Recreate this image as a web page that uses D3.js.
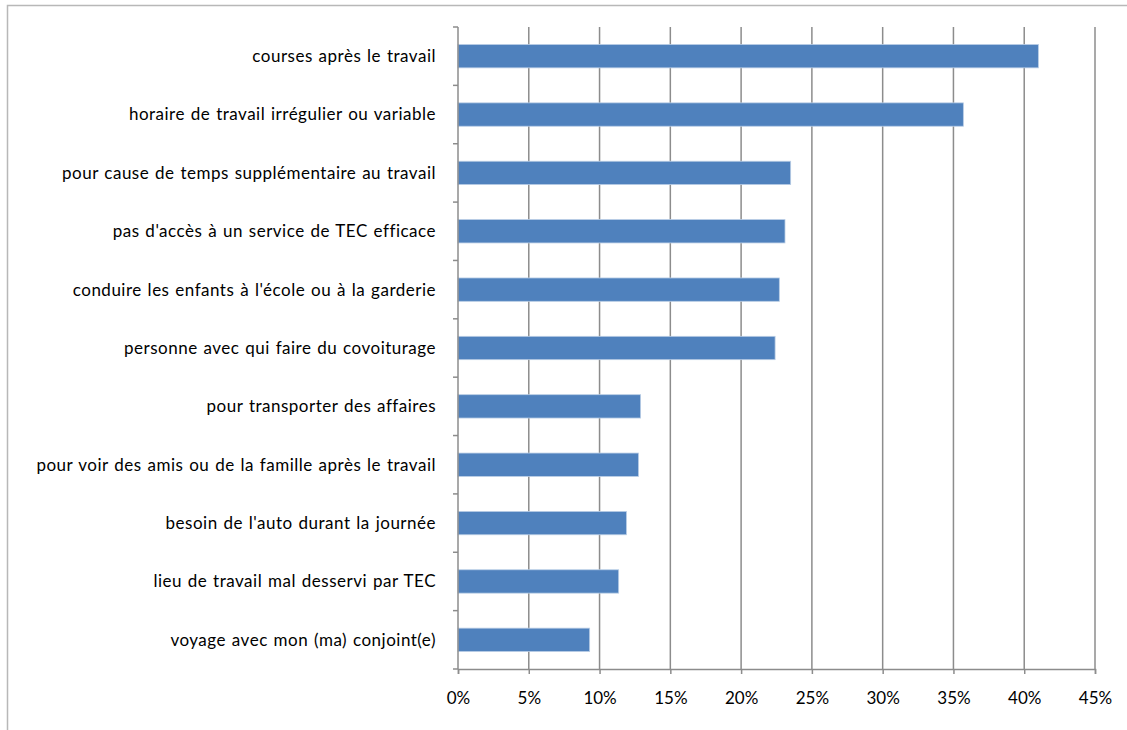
<!DOCTYPE html>
<html>
<head>
<meta charset="utf-8">
<script src="https://cdn.jsdelivr.net/npm/d3@7"></script>
<style>
  html, body { margin: 0; padding: 0; background: #fff; }
  svg { display: block; font-family: Lato, "Open Sans", sans-serif; }
</style>
</head>
<body>
<svg id="chart" width="1127" height="730"></svg>
<script>
// Reasons given for driving to work (share of respondents)
const categories = [
  "courses après le travail",
  "horaire de travail irrégulier ou variable",
  "pour cause de temps supplémentaire au travail",
  "pas d'accès à un service de TEC efficace",
  "conduire les enfants à l'école ou à la garderie",
  "personne avec qui faire du covoiturage",
  "pour transporter des affaires",
  "pour voir des amis ou de la famille après le travail",
  "besoin de l'auto durant la journée",
  "lieu de travail mal desservi par TEC",
  "voyage avec mon (ma) conjoint(e)"
];
const values = [41.0, 35.7, 23.5, 23.1, 22.7, 22.4, 12.9, 12.75, 11.9, 11.35, 9.3];
const tickValues = [0, 5, 10, 15, 20, 25, 30, 35, 40, 45];

const svg = d3.select("#chart");
const margin = { left: 458, right: 32, top: 27, bottom: 61 };
const W = 1127, H = 730;
const labelFont = 17;

// Chart frame
svg.append("path")
  .attr("d", `M7.5,${H} V5.5 H${W}`)
  .attr("fill", "none")
  .attr("stroke", "#b8b8b8")
  .attr("stroke-width", 1.5);

const x = d3.scaleLinear().domain([0, 45]).range([margin.left, W - margin.right]);
const y = d3.scaleBand().domain(categories).range([margin.top, H - margin.bottom])
  .paddingInner(0.6).paddingOuter(0.3);

// Vertical gridlines
svg.append("g")
  .selectAll("line")
  .data(tickValues.slice(1))
  .join("line")
  .attr("x1", d => x(d)).attr("x2", d => x(d))
  .attr("y1", margin.top).attr("y2", H - margin.bottom)
  .attr("stroke", "#8c8c8c")
  .attr("stroke-width", 1.5);

// Bars
svg.append("g")
  .selectAll("rect")
  .data(values)
  .join("rect")
  .attr("x", x(0))
  .attr("y", (d, i) => y(categories[i]))
  .attr("width", d => x(d) - x(0))
  .attr("height", y.bandwidth())
  .attr("fill", "#4f81bd")
  .attr("stroke", "#b9cde5")
  .attr("stroke-width", 0.8);

// X axis
const xAxis = svg.append("g")
  .attr("transform", `translate(0,${H - margin.bottom})`)
  .call(d3.axisBottom(x).tickValues(tickValues).tickFormat(d => d + "%").tickSize(5).tickPadding(18));
xAxis.select(".domain").attr("stroke", "#8c8c8c").attr("stroke-width", 1.5);
xAxis.selectAll(".tick line").attr("stroke", "#8c8c8c").attr("stroke-width", 1.5);
xAxis.selectAll("text").attr("font-size", labelFont).attr("fill", "#000")
  .attr("font-family", "Lato, sans-serif");

// Y axis: band-boundary ticks, labels centred on bars
const yAxisG = svg.append("g");
const step = y.step();
const bounds = d3.range(categories.length + 1).map(i => margin.top + i * step);
yAxisG.append("line")
  .attr("x1", x(0)).attr("x2", x(0))
  .attr("y1", margin.top).attr("y2", H - margin.bottom)
  .attr("stroke", "#8c8c8c").attr("stroke-width", 1.5);
yAxisG.selectAll("line.tk")
  .data(bounds)
  .join("line")
  .attr("class", "tk")
  .attr("x1", x(0) - 5).attr("x2", x(0))
  .attr("y1", d => d).attr("y2", d => d)
  .attr("stroke", "#8c8c8c").attr("stroke-width", 1.5);
yAxisG.selectAll("text")
  .data(categories)
  .join("text")
  .attr("x", 436)
  .attr("y", d => y(d) + y.bandwidth() / 2)
  .attr("dy", "0.35em")
  .attr("text-anchor", "end")
  .attr("font-size", labelFont)
  .attr("fill", "#000")
  .attr("letter-spacing", 0.5)
  .attr("word-spacing", 1)
  .text(d => d);
</script>
</body>
</html>
